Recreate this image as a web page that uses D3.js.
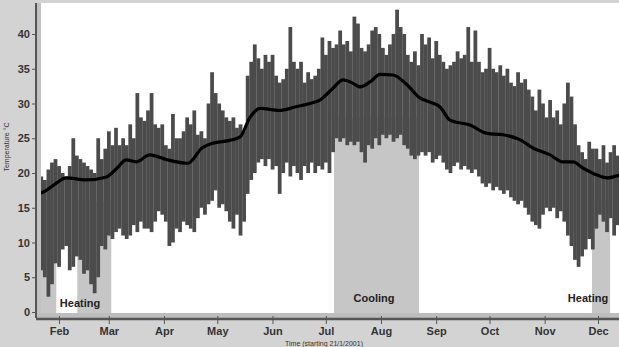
<!DOCTYPE html>
<html>
<head>
<meta charset="utf-8">
<script src="https://cdn.jsdelivr.net/npm/d3@7"></script>
<style>
  html, body { margin: 0; padding: 0; background: #d3d3d3; }
  svg { display: block; font-family: 'Liberation Sans', Arial, sans-serif; }
</style>
</head>
<body>
<div id="chart"></div>
<script>
// daily range, one entry every 2 days from 21 Jan 2001
const maxTemp = [
  19.5, 19, 20.5, 21.5, 22, 21,
  20, 19.5, 21, 25, 22.5, 22,
  21.5, 21, 20.5, 20, 25, 22,
  23.5, 26, 24, 26.5, 24, 25,
  24, 27, 25, 31.5, 28, 27.5,
  29, 31.5, 27, 26.5, 27, 24,
  23.5, 28.5, 25, 25, 26, 28,
  27, 29, 25.5, 26, 25, 30,
  34.5, 31.5, 30, 29, 28, 27.5,
  28, 26.5, 27, 26, 34, 36,
  38.5, 36.5, 35, 37, 36, 37,
  34, 33, 33.5, 35, 41, 36,
  35, 36, 33, 34.5, 33.5, 34,
  35, 39.5, 37, 39, 38, 38.5,
  40.5, 38.5, 39, 37.5, 42.5, 41.5,
  38, 37.5, 38.5, 40.5, 41, 40,
  38, 37, 38.5, 40, 43.5, 41,
  40, 37, 36, 37.5, 35.5, 40,
  38.5, 39.5, 36.5, 39, 37, 36,
  35, 35.5, 36, 37.5, 36.5, 37,
  41, 36, 40.5, 36, 34.5, 35,
  38, 35, 34.5, 35.5, 34, 35,
  33, 32.5, 34.5, 33, 33.5, 32,
  31, 29, 32, 30, 28, 30.5,
  28, 29, 27, 30, 33, 31,
  27, 24, 23, 22, 24.5, 23.5,
  23.5, 22, 24, 21.5, 23, 24, 22.5
];
const minTemp = [
  6, 5, 2.2, 4, 7, 6.5,
  9, 9.5, 6, 6.5, 8, 7.5,
  5.5, 6, 4, 2.7, 5, 9.5,
  9, 11, 10.5, 11.5, 12, 11,
  10.5, 11, 12.5, 11.5, 13, 12,
  12, 11.5, 13, 14.5, 14, 13,
  9.5, 10, 12, 11.5, 13, 12.5,
  12, 11.5, 13.5, 15, 14, 15.5,
  16, 17.5, 15, 15.5, 14.5, 13,
  12, 14, 11, 13, 17, 19,
  20, 21.5, 22, 21, 22, 20.5,
  21, 17, 20, 21.5, 19.5, 21,
  20, 19, 21, 20, 21.5, 20,
  21, 20.5, 21.5, 20, 23, 25,
  24.5, 25, 24, 24.5, 24, 24.5,
  23, 21.5, 24, 23.5, 25, 24,
  25.5, 25, 25.5, 24.5, 25, 25.5,
  24, 23.5, 22.5, 22, 22.5, 23,
  22.5, 23, 21.5, 22, 22.5, 21.5,
  20.5, 20, 21, 21.5, 20.5, 21,
  20.5, 20, 20.5, 19.5, 18.5, 18,
  18.5, 17.5, 18, 17.5, 17, 17.5,
  16.5, 16, 15.5, 16, 15, 14,
  13, 12.5, 12, 14, 15, 14.5,
  15, 13.5, 14.5, 13, 11, 9.5,
  7.5, 6.5, 8, 9, 10.5, 9,
  12, 14, 13, 11.5, 13.5, 11, 12.5
];

// smoothed mean, day offset from start -> temperature
const meanDays = [0, 2.6, 8.8, 15, 26, 37.4, 44, 48.7, 54.3, 62, 71.7, 83.5, 91.4, 97.6, 107, 112.8,
  118.4, 124, 135, 143.7, 152, 157.7, 165, 170.6, 176.3, 180.2, 185.8, 191.5, 198.8, 206.6,
  213.9, 219.6, 225.2, 230.8, 242, 251.6, 260.6, 270, 277.4, 287, 294.3, 299.9, 305.6, 313.5, 319, 326];
const meanTemp = [17.1, 17.3, 18.4, 19.3, 19.0, 19.4, 20.8, 21.9, 21.6, 22.6, 21.9, 21.4, 23.6, 24.3, 24.7, 25.2,
  28.0, 29.3, 29.0, 29.5, 30.0, 30.5, 32.2, 33.4, 32.9, 32.4, 33.1, 34.2, 34.1, 32.7,
  30.8, 30.2, 29.5, 27.6, 26.9, 25.7, 25.5, 24.8, 23.6, 22.6, 21.6, 21.6, 20.7, 19.7, 19.3, 19.7];

// shaded periods: start/end day offsets, label
const periods = [
  { from: 0, to: 9.5, label: '' },
  { from: 21.3, to: 40.4, label: 'Heating' },
  { from: 165.6, to: 213.4, label: 'Cooling' },
  { from: 310.6, to: 320.8, label: 'Heating' }
];
const yTicks = [0, 5, 10, 15, 20, 25, 30, 35, 40];

const W = 619, H = 347;
const start = new Date(2001, 0, 21);
const dayAt = d => start.getTime() + d * 864e5;

const svg = d3.select('#chart').append('svg').attr('width', W).attr('height', H);

const x = d3.scaleTime()
  .domain([start, new Date(2001, 11, 12)])
  .range([39.4, 617.6]);
const y = d3.scaleLinear().domain([0, 40]).range([312, 34]);

// plot area
svg.append('rect').attr('x', 37).attr('y', 3).attr('width', W - 37).attr('height', 313).attr('fill', '#fff');
// wall + floor bands
svg.append('rect').attr('x', 37).attr('y', 3).attr('width', 4).attr('height', 313).attr('fill', '#c2c2c2');
svg.append('rect').attr('x', 37).attr('y', 313).attr('width', W - 37).attr('height', 5).attr('fill', '#bdbdbd');

const plot = svg.append('g');
plot.append('clipPath').attr('id', 'clip')
  .append('rect').attr('x', 41).attr('y', 3).attr('width', W - 41).attr('height', 310);

const body = plot.append('g').attr('clip-path', 'url(#clip)');

// shading sits behind the bars, so its top is just kept inside the band
const shadeTop = y(16);
body.selectAll('rect.period')
  .data(periods)
  .enter()
  .append('rect')
  .attr('class', 'period')
  .attr('x', d => x(dayAt(d.from)))
  .attr('width', d => x(dayAt(d.to)) - x(dayAt(d.from)))
  .attr('y', d => (d.label === 'Cooling' ? y(28) : shadeTop))
  .attr('height', d => y(0) + 2 - (d.label === 'Cooling' ? y(28) : shadeTop))
  .attr('fill', '#c6c6c6');

const step = x(dayAt(2)) - x(dayAt(0));
body.selectAll('rect.range')
  .data(maxTemp.map((m, i) => ({ i, max: m, min: minTemp[i] })))
  .enter()
  .append('rect')
  .attr('class', 'range')
  .attr('x', d => x(dayAt(d.i * 2)))
  .attr('width', step + 0.2)
  .attr('y', d => y(d.max))
  .attr('height', d => y(d.min) - y(d.max))
  .attr('fill', '#4b4b4b');

const line = d3.line()
  .x(d => x(dayAt(d[0])))
  .y(d => y(d[1]))
  .curve(d3.curveMonotoneX);
body.append('path')
  .datum(meanDays.map((d, i) => [d, meanTemp[i]]))
  .attr('d', line)
  .attr('fill', 'none')
  .attr('stroke', '#000')
  .attr('stroke-width', 3.2);

// period labels
const labelPos = { 1: [80, 307], 2: [374, 302], 3: [588, 302] };
svg.selectAll('text.period')
  .data(periods.filter(d => d.label))
  .enter()
  .append('text')
  .attr('x', (d, i) => labelPos[i + 1][0])
  .attr('y', (d, i) => labelPos[i + 1][1])
  .attr('text-anchor', 'middle')
  .attr('font-size', 11)
  .attr('font-weight', 'bold')
  .attr('fill', '#222')
  .text(d => d.label);

// y axis
const yAxis = svg.append('g').attr('transform', 'translate(36,0)')
  .call(d3.axisLeft(y).tickValues(yTicks).tickSize(4).tickPadding(2));
yAxis.select('.domain').attr('d', 'M0,3V318').attr('stroke', '#555').attr('stroke-width', 2);
yAxis.selectAll('.tick line').attr('stroke', '#555');
yAxis.selectAll('.tick text').attr('font-size', 11).attr('font-weight', 'bold').attr('fill', '#333')
  .attr('font-family', "'Liberation Sans', Arial, sans-serif");

// x axis
const xAxis = svg.append('g').attr('transform', 'translate(0,319)')
  .call(d3.axisBottom(x).ticks(d3.timeMonth.every(1)).tickFormat(d3.timeFormat('%b')).tickSize(5).tickPadding(3));
xAxis.select('.domain').attr('d', `M36,0H${W}`).attr('stroke', '#555').attr('stroke-width', 2.5);
xAxis.selectAll('.tick line').attr('y1', -3).attr('stroke', '#555');
xAxis.selectAll('.tick text').attr('font-size', 11).attr('font-weight', 'bold').attr('fill', '#333')
  .attr('font-family', "'Liberation Sans', Arial, sans-serif");

svg.append('text')
  .attr('x', 324).attr('y', 345.5)
  .attr('text-anchor', 'middle')
  .attr('font-size', 7)
  .attr('fill', '#333')
  .text('Time (starting 21/1/2001)');

svg.append('text')
  .attr('transform', 'translate(9,147) rotate(-90)')
  .attr('text-anchor', 'middle')
  .attr('font-size', 7)
  .attr('fill', '#333')
  .text('Temperature °C');
</script>
</body>
</html>
